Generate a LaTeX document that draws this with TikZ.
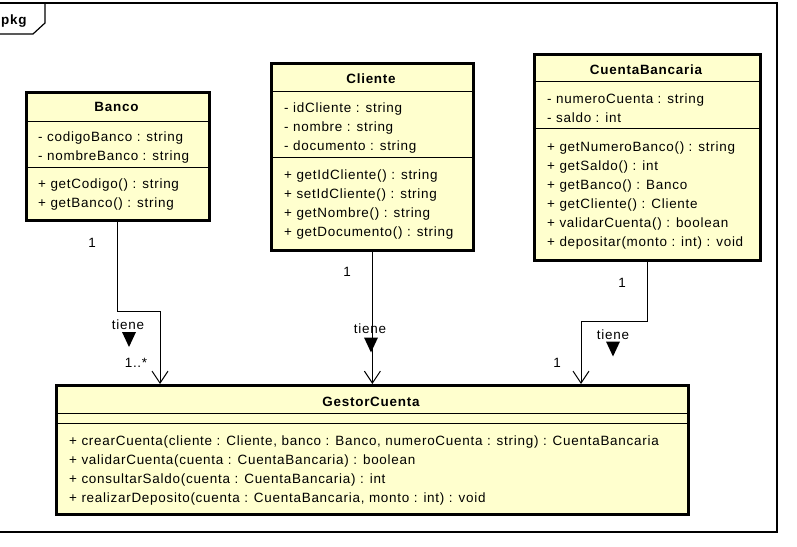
\documentclass[tikz,border=0pt]{standalone}
\usepackage{fontspec}
\setmainfont{Liberation Sans}[LetterSpace=5.5]
\usetikzlibrary{arrows.meta}

\definecolor{classfill}{HTML}{FFFFCE}

\tikzset{
  classbox/.style={draw, line width=2.8bp, fill=classfill, inner sep=0pt, anchor=north west},
  classname/.style={anchor=base, inner sep=0pt, font=\fontsize{13.5}{19}\selectfont\bfseries},
  member/.style={anchor=base west, inner sep=0pt, font=\fontsize{13.5}{19}\selectfont},
  multi/.style={inner sep=0pt, font=\fontsize{13.5}{19}\selectfont},
  sepline/.style={line width=1bp},
  assoc/.style={-{Straight Barb[length=12bp,width=16bp]}, line width=1bp},
}

\begin{document}
\begin{tikzpicture}[x=1bp, y=-1bp]
    \useasboundingbox (0,0) rectangle (797,547);

    % Package frame
    \draw[line width=1.2bp] (-2,3) rectangle (777,532);
    \draw[line width=1.2bp] (-2,34) -- (33,34) -- (45,23) -- (45,3);
    \node[anchor=base west, inner sep=0pt, font=\fontsize{13.5}{19}\selectfont\bfseries] (pkg) at (1,24.5) {pkg};

    % Class boxes
    \node[classbox, minimum width=183bp, minimum height=128bp] (banco) at (25,91) {};
    \node[classbox, minimum width=202bp, minimum height=187bp] (cliente) at (270,62) {};
    \node[classbox, minimum width=226bp, minimum height=206bp] (cuenta) at (533,53) {};
    \node[classbox, minimum width=632bp, minimum height=129bp] (gestor) at (55,384) {};

    % Compartment lines
    \draw[sepline] (25,122) -- (208,122);
    \draw[sepline] (25,168) -- (208,168);
    \draw[sepline] (270,92) -- (472,92);
    \draw[sepline] (270,158) -- (472,158);
    \draw[sepline] (533,82) -- (759,82);
    \draw[sepline] (533,129) -- (759,129);
    \draw[sepline] (55,413) -- (687,413);
    \draw[sepline] (55,423) -- (687,423);

    % Class names
    \node[classname] (banco-n) at (116.5,112) {Banco};
    \node[classname] (cliente-n) at (371,84) {Cliente};
    \node[classname] (cuenta-n) at (646,75) {CuentaBancaria};
    \node[classname] (gestor-n) at (371,406) {GestorCuenta};

    % Banco
    \foreach \t [count=\i from 0] in {- codigoBanco : string, - nombreBanco : string}
        \node[member] (banco-a\i) at (38,{141.5+19*\i}) {\t};
    \foreach \t [count=\i from 0] in {+ getCodigo() : string, + getBanco() : string}
        \node[member] (banco-m\i) at (38,{188.5+19*\i}) {\t};

    % Cliente
    \foreach \t [count=\i from 0] in {- idCliente : string, - nombre : string, - documento : string}
        \node[member] (cliente-a\i) at (284,{113+19*\i}) {\t};
    \foreach \t [count=\i from 0] in {+ getIdCliente() : string, + setIdCliente() : string,
        + getNombre() : string, + getDocumento() : string}
        \node[member] (cliente-m\i) at (284,{180+19*\i}) {\t};

    % CuentaBancaria
    \foreach \t [count=\i from 0] in {- numeroCuenta : string, - saldo : int}
        \node[member] (cuenta-a\i) at (547,{104+19*\i}) {\t};
    \foreach \t [count=\i from 0] in {+ getNumeroBanco() : string, + getSaldo() : int,
        + getBanco() : Banco, + getCliente() : Cliente, + validarCuenta() : boolean,
        + depositar(monto : int) : void}
        \node[member] (cuenta-m\i) at (547,{151.5+19*\i}) {\t};

    % GestorCuenta
    \foreach \t [count=\i from 0] in {{+ crearCuenta(cliente : Cliente, banco : Banco, numeroCuenta : string) : CuentaBancaria},
        + validarCuenta(cuenta : CuentaBancaria) : boolean,
        + consultarSaldo(cuenta : CuentaBancaria) : int,
        {+ realizarDeposito(cuenta : CuentaBancaria, monto : int) : void}}
        \node[member] (gestor-m\i) at (69,{445+19*\i}) {\t};

    % Associations
    \coordinate (bendB) at (160,311);
    \coordinate (bendC) at (581,321);
    \draw[assoc] (banco.south) |- (bendB) -- (bendB |- gestor.north);
    \draw[assoc] (cliente.south) -- (cliente.south |- gestor.north);
    \draw[assoc] (cuenta.south) |- (bendC) -- (bendC |- gestor.north);

    % Multiplicities and names
    \node[multi] (m1) at (92,243) {1};
    \node[multi] (m2) at (136,363) {1..*};
    \node[multi] (m3) at (347,272) {1};
    \node[multi] (m4) at (622,283) {1};
    \node[multi] (m5) at (557,363) {1};
    \node[multi] (t1) at (128,325) {tiene};
    \node[multi] (t2) at (370,329) {tiene};
    \node[multi] (t3) at (613,335) {tiene};

    % Reading direction
    \coordinate (d1) at (129,339.5);
    \coordinate (d2) at (371,345);
    \coordinate (d3) at (613,349);
    \foreach \d in {d1,d2,d3}
        \fill (\d) ++(-7,-7.5) -- ++(14,0) -- ++(-7,15) -- cycle;
  \end{tikzpicture}
\end{document}
